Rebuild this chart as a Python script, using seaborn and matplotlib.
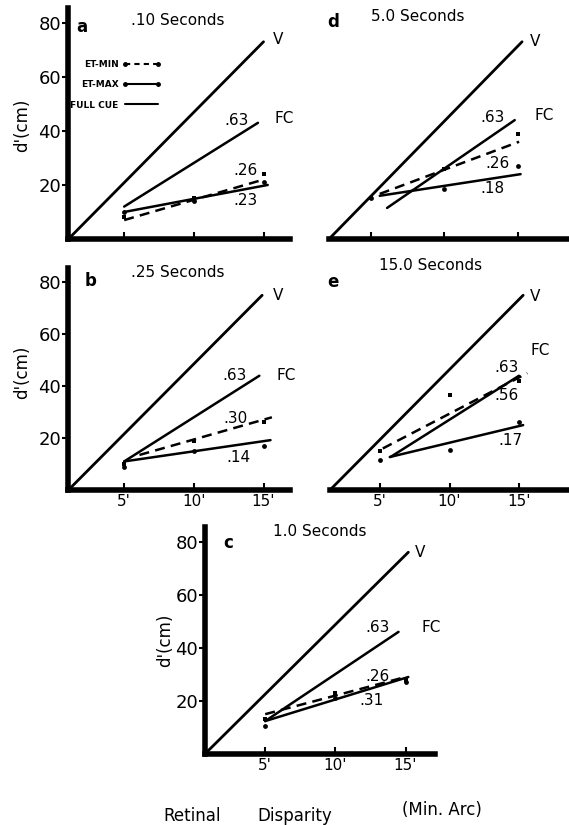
import matplotlib
matplotlib.use("Agg")
import matplotlib.pyplot as plt
from matplotlib.lines import Line2D
import seaborn as sns

# --- datos ---
panels = ["a", "b", "c", "d", "e"]
titles = {"a": ".10 Seconds", "b": ".25 Seconds", "c": "1.0 Seconds",
          "d": "5.0 Seconds", "e": "15.0 Seconds"}

disparity = [5, 10, 15]
etmin_pts = {"a": [8, 15, 24], "b": [10, 19, 26], "c": [13, 23, 28],
             "d": [15, 26, 39], "e": [15, 36.5, 42]}
etmax_pts = {"a": [10, 14, 21], "b": [9, 15, 17], "c": [10.5, 21, 27],
             "d": [15, 18.5, 27], "e": [11.5, 15.5, 26]}

# rectas (extremos) dibujadas en cada panel
v_x = {"a": [1, 15], "b": [1, 14.9], "c": [0.7, 15.2], "d": [2.14, 15.3], "e": [1.4, 15.3]}
v_y = {"a": [0, 73], "b": [0, 75], "c": [0, 76], "d": [0, 73], "e": [0, 75]}
fc_x = {"a": [5, 14.6], "b": [5, 14.7], "c": [5, 14.5], "d": [6.1, 14.8], "e": [5.75, 15]}
fc_y = {"a": [12, 43], "b": [11, 44], "c": [12.4, 46], "d": [11.5, 44], "e": [12.7, 44]}
etmin_x = {"a": [5, 15], "b": [6.1, 15.6], "c": [5, 15], "d": [5.6, 15.1], "e": [5.2, 15.6]}
etmin_y = {"a": [7, 22], "b": [13.5, 28], "c": [15, 29], "d": [16.7, 36], "e": [16, 45]}
etmax_x = {"a": [5, 15.3], "b": [5, 15.5], "c": [5, 15.2], "d": [5.6, 15.2], "e": [5.7, 15.3]}
etmax_y = {"a": [10, 20], "b": [11, 19.2], "c": [12.4, 29], "d": [16, 24], "e": [12.7, 25]}

fc_r = {"a": ".63", "b": ".63", "c": ".63", "d": ".63", "e": ".63"}
etmin_r = {"a": ".26", "b": ".30", "c": ".26", "d": ".26", "e": ".56"}
etmax_r = {"a": ".23", "b": ".14", "c": ".31", "d": ".18", "e": ".17"}

y_ticks = [20, 40, 60, 80]
x_tick_labels = ["5'", "10'", "15'"]

# --- maquetacion (pixeles convertidos a fracciones) ---
W, H = 569, 825
axes_px = {"a": (68, 8, 290, 239), "d": (329, 8, 569, 239),
           "b": (68, 268, 290, 490), "e": (330, 268, 569, 490),
           "c": (205, 527, 435, 754)}
xlims = {"a": (0.97, 16.9), "b": (0.97, 16.9), "c": (0.71, 17.1),
         "d": (2.14, 18.5), "e": (1.4, 18.6)}
# posiciones de etiquetas (coordenadas de datos)
lab_pos = {
    "a": {"V": (15.7, 74), "r63": (13.1, 44), "FC": (16.5, 44.5), "rmin": (13.7, 25.3), "rmax": (13.7, 14.1)},
    "b": {"V": (15.7, 75), "r63": (12.9, 44), "FC": (16.6, 44), "rmin": (13.0, 27.7), "rmax": (13.2, 12.7)},
    "c": {"V": (15.7, 76), "r63": (13.0, 47.7), "FC": (16.8, 47.7), "rmin": (13.0, 29.3), "rmax": (12.6, 20)},
    "d": {"V": (15.8, 73), "r63": (13.3, 45), "FC": (16.8, 45.7), "rmin": (13.6, 27.9), "rmax": (13.3, 18.6)},
    "e": {"V": (15.8, 74.6), "r63": (14.1, 47.3), "FC": (16.5, 53.8), "rmin": (14.1, 36.5), "rmax": (14.4, 19.2)},
}
letter_pos = {"a": (0.063, 0.918), "b": (0.10, 0.94), "c": (0.10, 0.93),
              "d": (0.017, 0.94), "e": (0.013, 0.937)}
title_pos = {"a": (0.495, 0.948), "b": (0.495, 0.98), "c": (0.50, 0.978),
             "d": (0.37, 0.965), "e": (0.42, 1.01)}
ylabel_pos = {"a": (-0.207, 0.49), "b": (-0.207, 0.53), "c": (-0.174, 0.50)}

sns.set_style("ticks")
plt.rcParams["font.family"] = ["DejaVu Sans"]
for k in ("text.color", "xtick.color", "ytick.color", "axes.labelcolor", "axes.edgecolor"):
    plt.rcParams[k] = "black"

fig = plt.figure(figsize=(W / 100, H / 100), dpi=100)

for p in panels:
    l, t, r, b = axes_px[p]
    ax = fig.add_axes([l / W, 1 - b / H, (r - l) / W, (b - t) / H])
    ax.set_xlim(*xlims[p])
    ax.set_ylim(0, 85.5)

    sns.lineplot(x=v_x[p], y=v_y[p], ax=ax, color="black", lw=2)
    sns.lineplot(x=fc_x[p], y=fc_y[p], ax=ax, color="black", lw=1.8)
    sns.lineplot(x=etmin_x[p], y=etmin_y[p], ax=ax, color="black", lw=1.8, linestyle=(0, (4, 2.5)))
    sns.lineplot(x=etmax_x[p], y=etmax_y[p], ax=ax, color="black", lw=1.8)
    sns.scatterplot(x=disparity, y=etmin_pts[p], ax=ax, color="black", marker="s", s=12, linewidth=0)
    sns.scatterplot(x=disparity, y=etmax_pts[p], ax=ax, color="black", marker="o", s=12, linewidth=0)

    lp = lab_pos[p]
    kw = dict(fontsize=11, color="black", va="center", clip_on=False)
    ax.text(*lp["V"], "V", ha="left", **kw)
    ax.text(*lp["r63"], fc_r[p], ha="center", **kw)
    ax.text(*lp["FC"], "FC", ha="center", **kw)
    ax.text(*lp["rmin"], etmin_r[p], ha="center", **kw)
    ax.text(*lp["rmax"], etmax_r[p], ha="center", **kw)

    ax.text(*letter_pos[p], p, transform=ax.transAxes, fontsize=12, fontweight="bold",
            ha="center", va="center")
    ax.text(*title_pos[p], titles[p], transform=ax.transAxes, fontsize=11,
            ha="center", va="center")

    sns.despine(ax=ax)
    ax.spines["bottom"].set_linewidth(4)
    ax.set_xticks(disparity)
    ax.tick_params(axis="x", direction="in", length=5, width=1.5, pad=3)
    if p in ("b", "c", "e"):
        ax.set_xticklabels(x_tick_labels, fontsize=11)
    else:
        ax.set_xticklabels([])

    if p in ("a", "b", "c"):
        ax.spines["left"].set_linewidth(4)
        ax.set_yticks(y_ticks)
        ax.set_yticklabels([str(v) for v in y_ticks], fontsize=13)
        ax.tick_params(axis="y", direction="out", length=4, width=1.5, pad=1)
        ax.text(*ylabel_pos[p], "d'(cm)", transform=ax.transAxes, rotation=90,
                fontsize=12, ha="center", va="center")
    else:
        ax.spines["left"].set_visible(False)
        ax.set_yticks([])
    ax.set_xlabel("")
    ax.set_ylabel("")

    if p == "a":
        handles = [
            Line2D([], [], color="black", lw=1.5, linestyle=(0, (2.5, 2)), marker="o", ms=2.5),
            Line2D([], [], color="black", lw=1.5, marker="o", ms=2.5),
            Line2D([], [], color="black", lw=1.5),
        ]
        ax.legend(handles, ["ET-MIN", "ET-MAX", "FULL CUE"], loc="upper left",
                  bbox_to_anchor=(0.01, 0.775), frameon=False, markerfirst=False,
                  numpoints=2, handlelength=4.3, handletextpad=0.4, labelspacing=1.25,
                  borderpad=0, borderaxespad=0,
                  prop={"size": 6.5, "weight": "bold"})

fig.text(163 / W, 1 - 816 / H, "Retinal", fontsize=12, ha="left", va="center")
fig.text(257 / W, 1 - 816 / H, "Disparity", fontsize=12, ha="left", va="center")
fig.text(402 / W, 1 - 810 / H, "(Min. Arc)", fontsize=12, ha="left", va="center")

fig.savefig("out.png", dpi=100, facecolor="white")
